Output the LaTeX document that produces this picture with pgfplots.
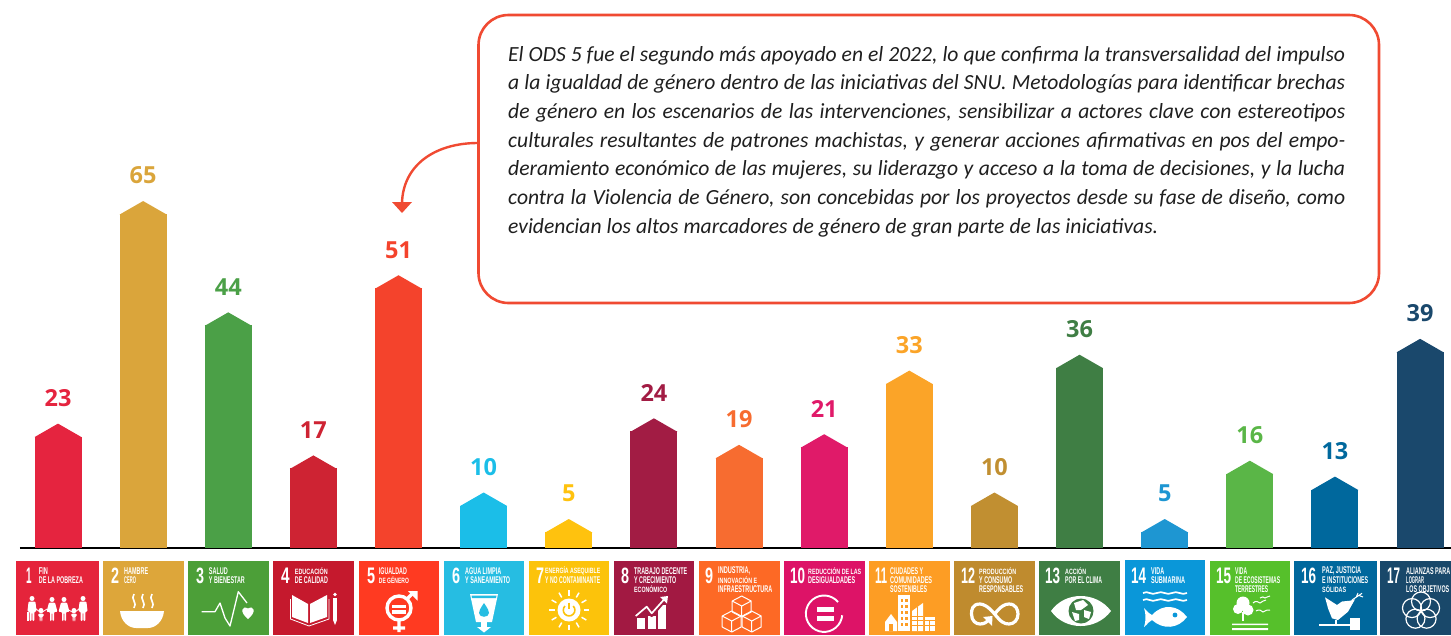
\documentclass[border=0pt]{standalone}
\usepackage{fontspec}
\usepackage{graphicx}
\usepackage{pgfplots}
\pgfplotsset{compat=1.18}
\setmainfont{Carlito}
\newfontfamily\numfont{Open Sans}[BoldFont={Open Sans Bold}]
\newfontfamily\tilefont{Liberation Sans}
\definecolor{callout}{HTML}{F04A32}
\pgfdeclareplotmark{house}{%
  \pgfpathmoveto{\pgfpoint{-23.5pt}{-0.5pt}}%
  \pgfpathlineto{\pgfpoint{0pt}{13pt}}%
  \pgfpathlineto{\pgfpoint{23.5pt}{-0.5pt}}%
  \pgfpathclose\pgfusepathqfill}
% tile text line: x, y(centre), width, text
\newcommand{\tl}[4]{\node[anchor=west,inner sep=0pt,text=white] at (#1,#2) {\resizebox{#3pt}{6.8pt}{\tilefont\bfseries #4}};}
\newcommand{\tnum}[3]{\node[anchor=west,inner sep=0pt,text=white] at (#1,575.5) {\resizebox{#3pt}{15.5pt}{\tilefont\bfseries #2}};}
% person: x, top, height, half width of body
\newcommand{\person}[5]{\fill[white] (#1,#2+2.5) circle (2.5);
  \fill[white,rounded corners=1] (#1-#4,#2+5.5) -- (#1+#4,#2+5.5) -- (#1+#4+#5,#2+#3*0.62) -- (#1+#4-1,#2+#3*0.62) -- (#1+#4-1,#2+#3) -- (#1+.4,#2+#3) -- (#1+.4,#2+#3*0.66) -- (#1-.4,#2+#3*0.66) -- (#1-.4,#2+#3) -- (#1-#4+1,#2+#3) -- (#1-#4+1,#2+#3*0.62) -- (#1-#4-#5,#2+#3*0.62) -- cycle;}
\newcommand{\cube}[2]{%
 \draw[white,line width=1pt,line join=round] (#1,#2-10)--(#1+9.5,#2-5)--(#1+9.5,#2+6)--(#1,#2+11)--(#1-9.5,#2+6)--(#1-9.5,#2-5)--cycle (#1-9.5,#2-5)--(#1,#2)--(#1+9.5,#2-5) (#1,#2)--(#1,#2+11);}
\definecolor{t1}{HTML}{E5243B}\definecolor{t2}{HTML}{DDA63A}\definecolor{t3}{HTML}{4C9F38}
\definecolor{t4}{HTML}{C5192D}\definecolor{t5}{HTML}{FF3A21}\definecolor{t6}{HTML}{26BDE2}
\definecolor{t7}{HTML}{FCC30B}\definecolor{t8}{HTML}{A21942}\definecolor{t9}{HTML}{FD6925}
\definecolor{t10}{HTML}{DD1367}\definecolor{t11}{HTML}{FD9D24}\definecolor{t12}{HTML}{BF8B2E}
\definecolor{t13}{HTML}{3F7E44}\definecolor{t14}{HTML}{0A97D9}\definecolor{t15}{HTML}{56C02B}
\definecolor{t16}{HTML}{00689D}\definecolor{t17}{HTML}{19486A}
\definecolor{b1}{HTML}{E5243F}\definecolor{b2}{HTML}{DAA53B}\definecolor{b3}{HTML}{4BA047}
\definecolor{b4}{HTML}{CE2333}\definecolor{b5}{HTML}{F4432C}\definecolor{b6}{HTML}{1BBEE8}
\definecolor{b7}{HTML}{FFC20E}\definecolor{b8}{HTML}{A21C44}\definecolor{b9}{HTML}{F76C30}
\definecolor{b10}{HTML}{E01A69}\definecolor{b11}{HTML}{FBA428}\definecolor{b12}{HTML}{C18F31}
\definecolor{b13}{HTML}{3F7E44}\definecolor{b14}{HTML}{1E96D2}\definecolor{b15}{HTML}{5AB647}
\definecolor{b16}{HTML}{00689D}\definecolor{b17}{HTML}{1A486C}
\pgfplotsset{odsbar/.style={ybar,bar width=47pt,bar shift=0pt,draw=none,fill=#1,
  mark=house,mark options={fill=#1,draw=none},
  nodes near coords,
  nodes near coords style={anchor=center,yshift=38.5pt,text=#1,font=\numfont\bfseries\fontsize{23.5}{24}\selectfont}}}
\begin{document}
\begin{tikzpicture}
\useasboundingbox (0pt,0pt) rectangle (1451pt,-635pt);
\begin{axis}[
  at={(0pt,-548pt)},anchor=south west,
  scale only axis,width=1431pt,height=548pt,
  xshift=20pt,
  xmin=0.5536,xmax=17.363,
  ymin=1.98,ymax=105.39,
  axis y line=none,
  axis x line=bottom,
  axis line style={-,black,line width=2pt},
  xtick=\empty,ytick=\empty,
  /pgf/number format/assume math mode=true,
  clip=true,
]
\addplot[odsbar=b1] coordinates {(1,23)};
\addplot[odsbar=b2] coordinates {(2,65)};
\addplot[odsbar=b3] coordinates {(3,44)};
\addplot[odsbar=b4] coordinates {(4,17)};
\addplot[odsbar=b5] coordinates {(5,51)};
\addplot[odsbar=b6] coordinates {(6,10)};
\addplot[odsbar=b7] coordinates {(7,5)};
\addplot[odsbar=b8] coordinates {(8,24)};
\addplot[odsbar=b9] coordinates {(9,19)};
\addplot[odsbar=b10] coordinates {(10,21)};
\addplot[odsbar=b11] coordinates {(11,33)};
\addplot[odsbar=b12] coordinates {(12,10)};
\addplot[odsbar=b13] coordinates {(13,36)};
\addplot[odsbar=b14] coordinates {(14,5)};
\addplot[odsbar=b15] coordinates {(15,16)};
\addplot[odsbar=b16] coordinates {(16,13)};
\addplot[odsbar=b17] coordinates {(17,39)};
\end{axis}
\begin{scope}[x=1pt,y=-1pt]
% callout
\draw[callout,line width=2.6pt,fill=white,rounded corners=30pt] (478.5,15) rectangle (1379,303);
\draw[callout,line width=2.4pt] (478,143) .. controls (435,143) and (403,165) .. (402,203);
\fill[callout] (392,202) -- (412,202) -- (402,213) -- cycle;
\begin{scope}[every node/.style={anchor=base west,inner sep=0pt,text={black!88}},
  execute at begin node={\fontsize{21.6}{24}\selectfont\itshape}]
\node at (508,61) {\makebox[837pt][s]{El ODS 5 fue el segundo más apoyado en el 2022, lo que confirma la transversalidad del impulso}};
\node at (508,89.7) {\makebox[837pt][s]{a la igualdad de género dentro de las iniciativas del SNU. Metodologías para identificar brechas}};
\node at (508,118.4) {\makebox[837pt][s]{de género en los escenarios de las intervenciones, sensibilizar a actores clave con estereotipos}};
\node at (508,147) {\makebox[837pt][s]{culturales resultantes de patrones machistas, y generar acciones afirmativas en pos del empo-}};
\node at (508,175.8) {\makebox[837pt][s]{deramiento económico de las mujeres, su liderazgo y acceso a la toma de decisiones, y  la lucha}};
\node at (508,204.5) {\makebox[837pt][s]{contra la Violencia de Género,  son concebidas por los proyectos desde su fase de diseño, como}};
\node at (508,233) {\makebox[650pt][s]{evidencian los altos marcadores de género de gran parte de las iniciativas.}};
\end{scope}
% tiles
\fill[t1] (16,561) rectangle (99,635);
\fill[t2] (103,561) rectangle (184,635);
\fill[t3] (188,561) rectangle (269,635);
\fill[t4] (273,561) rectangle (354,635);
\fill[t5] (359,561) rectangle (439,635);
\fill[t6] (444,561) rectangle (524,635);
\fill[t7] (529,561) rectangle (609,635);
\fill[t8] (614,561) rectangle (694,635);
\fill[t9] (699,561) rectangle (780,635);
\fill[t10] (784,561) rectangle (865,635);
\fill[t11] (869,561) rectangle (950,635);
\fill[t12] (954,561) rectangle (1035,635);
\fill[t13] (1039,561) rectangle (1120,635);
\fill[t14] (1125,560) rectangle (1205,635);
\fill[t15] (1210,561) rectangle (1290,635);
\fill[t16] (1294,561) rectangle (1377,635);
\fill[t17] (1380,561) rectangle (1451,635);
% numbers
\tnum{26}{1}{5.5}\tnum{111}{2}{8}\tnum{196}{3}{8}\tnum{281}{4}{8.5}\tnum{367}{5}{8}\tnum{452}{6}{8}
\tnum{536}{7}{8}\tnum{621}{8}{8}\tnum{705}{9}{8}\tnum{790}{10}{15}\tnum{875}{11}{12}\tnum{961}{12}{14}
\tnum{1045}{13}{15}\tnum{1131}{14}{15}\tnum{1216}{15}{15}\tnum{1301}{16}{15}\tnum{1387}{17}{13}
% tile texts
\tl{38.7}{571}{9}{FIN}\tl{38.7}{580}{44}{DE LA POBREZA}
\tl{124}{571}{24}{HAMBRE}\tl{124}{580}{12}{CERO}
\tl{208.7}{571}{19}{SALUD}\tl{208.7}{580}{36}{Y BIENESTAR}
\tl{294.7}{571}{33}{EDUCACIÓN}\tl{294.7}{580}{33}{DE CALIDAD}
\tl{378.7}{571}{28}{IGUALDAD}\tl{378.7}{580}{30}{DE GÉNERO}
\tl{465}{571}{36}{AGUA LIMPIA}\tl{465}{580}{45}{Y SANEAMIENTO}
\tl{545}{571}{55}{ENERGÍA ASEQUIBLE}\tl{545}{580}{55}{Y NO CONTAMINANTE}
\tl{634}{571}{53}{TRABAJO DECENTE}\tl{634}{580}{42}{Y CRECIMIENTO}\tl{634}{589}{33}{ECONÓMICO}
\tl{718}{571}{32}{INDUSTRIA,}\tl{718}{580}{39}{INNOVACIÓN E}\tl{718}{589}{54}{INFRAESTRUCTURA}
\tl{808}{571}{53}{REDUCCIÓN DE LAS}\tl{808}{580}{47}{DESIGUALDADES}
\tl{890}{571}{33}{CIUDADES Y}\tl{890}{580}{42}{COMUNIDADES}\tl{890}{589}{37}{SOSTENIBLES}
\tl{979}{571}{37}{PRODUCCIÓN}\tl{979}{580}{33}{Y CONSUMO}\tl{979}{589}{44}{RESPONSABLES}
\tl{1065}{571}{21}{ACCIÓN}\tl{1065}{580}{37}{POR EL CLIMA}
\tl{1151}{571}{13}{VIDA}\tl{1151}{580}{34}{SUBMARINA}
\tl{1235}{571}{12}{VIDA}\tl{1235}{580}{45}{DE ECOSISTEMAS}\tl{1235}{589}{33}{TERRESTRES}
\tl{1322}{571}{39}{PAZ, JUSTICIA}\tl{1322}{580}{46}{E INSTITUCIONES}\tl{1322}{589}{24}{SÓLIDAS}
\tl{1406}{571}{44}{ALIANZAS PARA}\tl{1406}{580}{18}{LOGRAR}\tl{1406}{589}{43}{LOS OBJETIVOS}
% icon 1
\person{32}{596}{25}{3.4}{1.2}\person{41}{608}{13}{2.3}{.8}\person{52}{597}{24}{3}{2.5}\person{64}{597}{24}{3}{2.5}\person{74}{608}{13}{2.3}{.8}\person{83}{596}{25}{3.4}{1.2}
\fill[white] (26.5,612) rectangle (29,621);
\draw[white,line width=.8pt] (35,608)--(41,613) (41,613)--(47,609) (67,609)--(74,613)--(80,608);
% icon 2
\fill[white] (120,611) -- (164,611) .. controls (163,622) and (155,628) .. (148,628) -- (136,628) .. controls (129,628) and (121,622) .. (120,611) -- cycle;
\foreach \x in {134,143,152}{\draw[white,line width=1.6pt] (\x,594) .. controls (\x-4,599) and (\x+4,603) .. (\x,608);}
% icon 3
\draw[white,line width=1.3pt,line join=round] (201.7,611.7)--(215,611.7)--(220,603)--(225,618)--(230,626)--(238.3,591.7)--(247,603);
\fill[white] (248,619) .. controls (239,612) and (242,605) .. (248,608.5) .. controls (254,605) and (257,612) .. (248,619) -- cycle;
% icon 4
\fill[white] (292,595)--(308,604)--(308,623)--(292,617)--cycle (310,604)--(327,595)--(327,617)--(310,623)--cycle;
\draw[white,line width=.8pt] (290.5,599)--(290.5,619)--(309,626)--(329,619)--(329,599);
\fill[white] (333,598) rectangle (337,620); \fill[white] (333,620)--(337,620)--(335,625)--cycle; \fill[white] (335,594.5) circle (1.8);
% icon 5
\draw[white,line width=3.4pt] (399,608) circle (12);
\fill[white] (392,604.5) rectangle (406,608); \fill[white] (392,610) rectangle (406,613.5);
\draw[white,line width=3.4pt] (399,620)--(399,632) (393,628)--(405,628) (407,599)--(414,592);
\fill[white] (408,591)--(417.5,591)--(417.5,600.5)--cycle;
% icon 6
\fill[white] (470,594)--(498,594)--(492,622)--(476,622)--cycle;
\fill[t6] (471.5,595.5)--(496.5,595.5)--(496,598)--(472,598)--cycle;
\fill[t6] (484,603) .. controls (480,609) and (479,611) .. (479,613) .. controls (479,618) and (489,618) .. (489,613) .. controls (489,611) and (488,609) .. (484,603) -- cycle;
\fill[white] (481,622) rectangle (487,627); \fill[white] (477,627)--(491,627)--(484,632.5)--cycle;
% icon 7
\fill[white] (569,610) circle (11.5);
\draw[t7,line width=1.6pt] (573.2,606) arc (-45:225:5.8);
\draw[t7,line width=1.8pt] (569,602.5)--(569,609);
\foreach \a in {0,30,...,330}{\draw[white,line width=1.5pt] ({569+14.5*cos(\a)},{610+14.5*sin(\a)})--({569+20*cos(\a)},{610+20*sin(\a)});}
% icon 8
\fill[white] (636.7,618) rectangle (645,629); \fill[white] (647.7,616) rectangle (655.7,629); \fill[white] (658.3,605) rectangle (665.7,629);
\draw[t8,line width=3.4pt,line join=round] (633,618)--(646.7,608.7)--(651.7,615.3)--(665,600);
\draw[white,line width=1.7pt,line join=round] (635.7,616)--(646.7,606.7)--(651.7,613.3)--(664,599.5);
\fill[white] (660,597)--(668,596)--(667,603.5)--cycle;
% icon 9
\cube{741.7}{606}\cube{731.7}{621}\cube{751.7}{621}
% icon 10
\draw[white,line width=1.9pt] (838,602) arc (-40:-380+25:18.2);
\fill[white] (817,607) rectangle (834,612); \fill[white] (817,616) rectangle (834,621);
% icon 11
\fill[white] (898,595) rectangle (910,631);
\foreach \y in {599,605,...,627}{\foreach \x in {900.5,905.2}{\fill[t11] (\x,\y) rectangle (\x+2.6,\y+3);}}
\fill[white] (885,622) -- (891,614) -- (897,622) -- (897,631) -- (885,631) -- cycle;
\fill[t11] (889,624) rectangle (893,631);
\fill[white] (912,611) -- (923,603) -- (923,631) -- (912,631) -- cycle;
\draw[t11,line width=.6pt] (912,616)--(923,616) (912,620.5)--(923,620.5) (912,625)--(923,625) (917.5,607)--(917.5,631);
\fill[white] (924.5,617) rectangle (935,631);
\draw[t11,line width=.6pt] (924.5,620)--(935,620) (924.5,625)--(935,625) (929.7,620)--(929.7,631);
% icon 12
\draw[white,line width=3.2pt] (989,620) .. controls (987,622) and (984,624) .. (980,624) .. controls (976,624) and (971.5,621) .. (971.5,614) .. controls (971.5,610) and (972,604) .. (980,604) .. controls (983,604) and (988,606) .. (994.6,614) .. controls (1001,622) and (1004,624) .. (1009,624) .. controls (1014,624) and (1018,620) .. (1018,614) .. controls (1018,610) and (1016,604) .. (1009,604) .. controls (1005,604) and (1001,606) .. (994.6,614);
\fill[white] (983,617)--(992.5,616)--(992,626)--cycle;
% icon 13
\fill[white] (1051,611) .. controls (1065,591) and (1096,591) .. (1111,611) .. controls (1096,631) and (1065,631) .. (1051,611) -- cycle;
\fill[t13] (1081,611) circle (12.5);
\fill[white] (1074,603) -- (1083,600) -- (1088,605) -- (1081,610) -- (1076,610) -- cycle;
\fill[white] (1072,612) -- (1079,614) -- (1079,620) -- (1075,621) -- cycle;
\fill[white] (1084,610) -- (1091,612) -- (1089,619) -- (1084,617) -- cycle;
% icon 14
\foreach \y in {593,600}{\draw[white,line width=1.7pt] (1143,\y) .. controls (1148,\y-3) and (1151,\y+3) .. (1157,\y) .. controls (1162,\y-3) and (1167,\y+3) .. (1172,\y) .. controls (1177,\y-3) and (1182,\y+3) .. (1187,\y);}
\fill[white] (1144,608) .. controls (1148,612) and (1149,614) .. (1152,615) .. controls (1163,603) and (1178,605) .. (1187,617) .. controls (1178,629) and (1163,630) .. (1152,620) .. controls (1149,621) and (1148,624) .. (1144,627) .. controls (1146,622) and (1146,613) .. (1144,608) -- cycle;
\fill[t14] (1175,615) circle (2.4);
% icon 15
\fill[white] (1243,603) circle (6.5) (1238,609) circle (5) (1248,610) circle (5.5);
\draw[white,line width=1.4pt] (1243,612)--(1243,621);
\fill[white] (1232,623.5) rectangle (1268,625) (1232,628) rectangle (1268,630) ;
\draw[white,line width=1pt] (1253,603) .. controls (1256,600) and (1258,602) .. (1260,603) .. controls (1262,601) and (1264,601) .. (1266,600)
 (1260,598) .. controls (1262,596) and (1264,597) .. (1265,598) .. controls (1266,597) and (1268,597) .. (1270,596)
 (1256,611) .. controls (1259,609) and (1261,610) .. (1263,612) .. controls (1265,610) and (1268,610) .. (1270,610);
% icon 16
\fill[white] (1325,597.3)--(1337,605)--(1342,601.5)--(1350,600.7)--(1355,599.3)--(1348,611.7)--(1338,620)--(1332,618.3)--(1328,608.3)--cycle;
\draw[white,line width=1pt] (1352,600)--(1362,593.3) (1356,597.5)--(1358,593) (1359,595.5)--(1363,597);
\draw[white,line width=1.8pt] (1336,620)--(1336,624);
\fill[white] (1319,623.7) rectangle (1350,625.7);
\fill[white] (1350,618) rectangle (1360,630);
\fill[white] (1335,625) rectangle (1350,626);
% icon 17
\foreach \a in {90,162,234,306,378}{\draw[white,line width=1.2pt] ({1421+9.5*cos(\a)},{611-9.5*sin(\a)}) circle (9.5);}
\end{scope}
\end{tikzpicture}
\end{document}
